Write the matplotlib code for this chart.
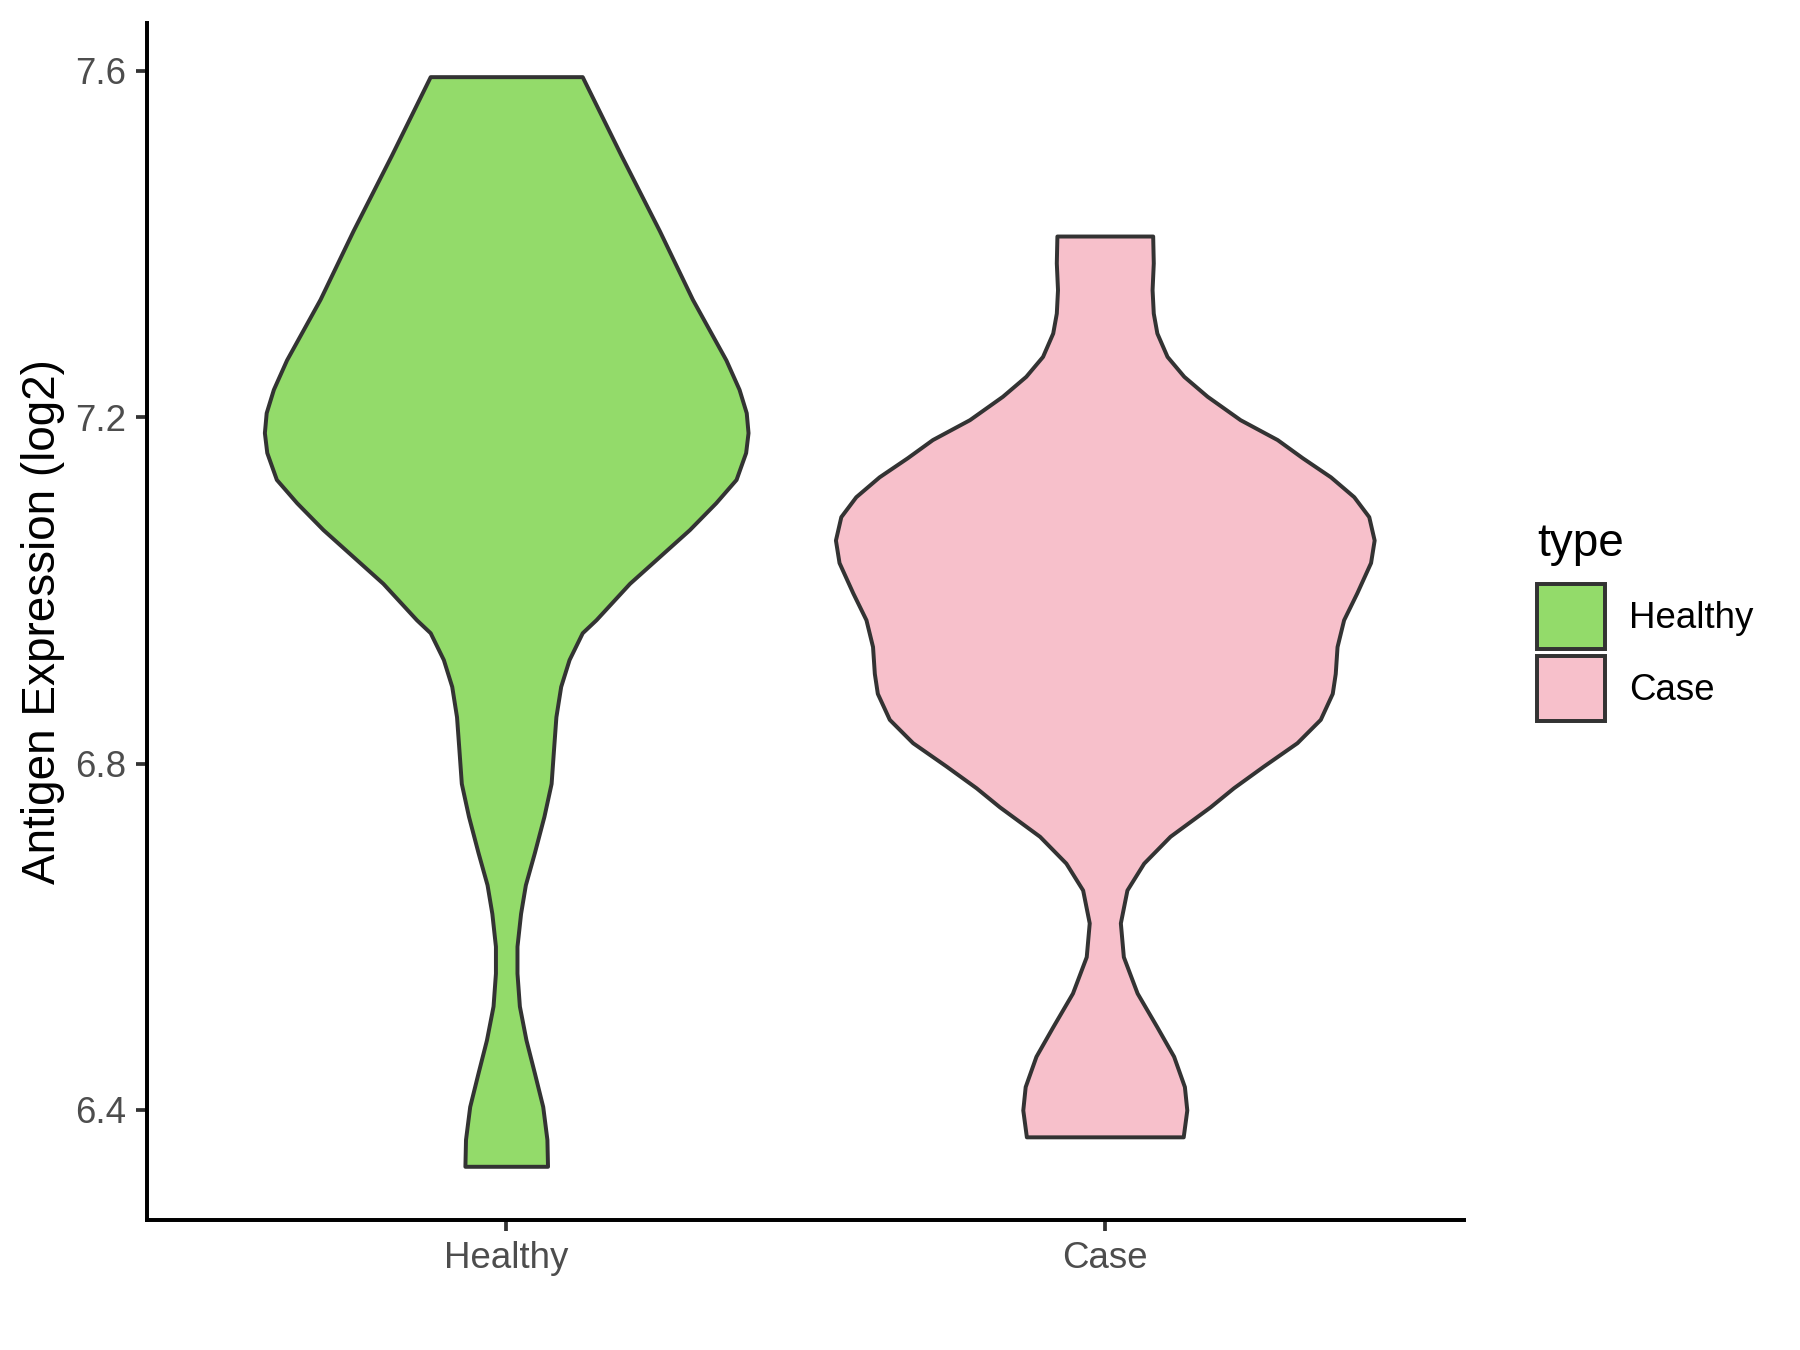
import numpy as np
import matplotlib.pyplot as plt
from matplotlib.patches import Patch

plt.rcParams['font.family'] = ['Liberation Sans', 'DejaVu Sans']

# categories and colours
groups = ['Healthy', 'Case']
colors = ['#93DB6A', '#F7C0CB']
edge = '#333333'

# violin outlines: expression value and half width (x units)
healthy_values = [7.593, 7.502, 7.415, 7.336, 7.301, 7.266, 7.232, 7.205, 7.182,
                  7.159, 7.128, 7.101, 7.070, 7.039, 7.008, 6.966, 6.951, 6.920,
                  6.889, 6.854, 6.816, 6.777, 6.739, 6.697, 6.660, 6.627, 6.589,
                  6.558, 6.520, 6.481, 6.443, 6.404, 6.366, 6.335]
healthy_halfwidth = [0.127, 0.192, 0.256, 0.311, 0.339, 0.367, 0.389, 0.401, 0.404,
                     0.400, 0.384, 0.350, 0.306, 0.256, 0.206, 0.150, 0.127, 0.105,
                     0.091, 0.083, 0.079, 0.075, 0.063, 0.047, 0.032, 0.024, 0.018,
                     0.018, 0.022, 0.033, 0.047, 0.061, 0.068, 0.069]

case_values = [7.409, 7.378, 7.347, 7.320, 7.297, 7.270, 7.247, 7.224, 7.197, 7.174,
               7.153, 7.131, 7.108, 7.085, 7.058, 7.032, 6.997, 6.966, 6.935, 6.904,
               6.881, 6.851, 6.824, 6.797, 6.772, 6.750, 6.716, 6.685, 6.654, 6.616,
               6.577, 6.535, 6.496, 6.462, 6.427, 6.400, 6.369]
case_halfwidth = [0.080, 0.081, 0.079, 0.081, 0.087, 0.104, 0.132, 0.171, 0.226, 0.288,
                  0.330, 0.377, 0.416, 0.441, 0.450, 0.444, 0.421, 0.399, 0.388, 0.385,
                  0.380, 0.360, 0.321, 0.265, 0.215, 0.176, 0.109, 0.065, 0.037, 0.026,
                  0.031, 0.054, 0.087, 0.115, 0.133, 0.137, 0.131]

yticks = [6.4, 6.8, 7.2, 7.6]

fig = plt.figure(figsize=(6, 4.5), dpi=300)
ax = fig.add_axes([0.0817, 0.0963, 0.7316, 0.8867])

profiles = [(healthy_values, healthy_halfwidth), (case_values, case_halfwidth)]
for i, (vals, hw) in enumerate(profiles):
    pos = i + 1
    y = np.array(vals)
    w = np.array(hw)
    ax.fill_betweenx(y, pos - w, pos + w, facecolor=colors[i], edgecolor=edge,
                     linewidth=0.95, joinstyle='round')

ax.set_xlim(0.4, 2.6)
ax.set_ylim(6.273, 7.655)
ax.set_xticks([1, 2])
ax.set_xticklabels(groups)
ax.set_yticks(yticks)
ax.set_yticklabels([f'{t:.1f}' for t in yticks])
ax.tick_params(axis='both', labelsize=8.8, labelcolor='#4D4D4D', color='#333333',
               length=2.75, width=0.9, pad=2.2)
for s in ['top', 'right']:
    ax.spines[s].set_visible(False)
for s in ['left', 'bottom']:
    ax.spines[s].set_linewidth(0.95)
    ax.spines[s].set_color('black')
ax.set_ylabel('Antigen Expression (log2)', fontsize=11, labelpad=2.5)

handles = [Patch(facecolor=c, edgecolor=edge, linewidth=0.95) for c in colors]
leg = fig.legend(handles, groups, title='type', loc='upper left',
                 bbox_to_anchor=(0.854, 0.6136), frameon=False, fontsize=8.8,
                 title_fontsize=11, alignment='left', handlelength=1.85,
                 handleheight=2.35, labelspacing=0.18, handletextpad=0.65,
                 borderpad=0, borderaxespad=0)
leg._legend_box.sep = 4.5  # more room under the title

fig.savefig('out.png', dpi=300)
